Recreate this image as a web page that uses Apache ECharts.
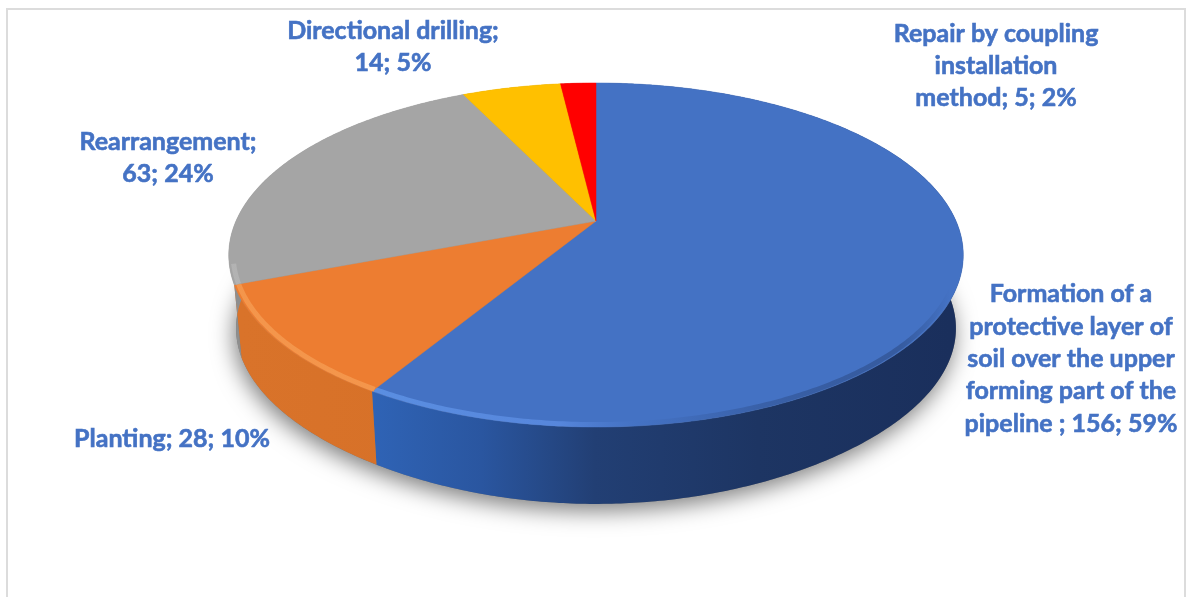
<!DOCTYPE html>
<html>
<head>
<meta charset="utf-8">
<style>html,body{margin:0;padding:0;background:#fff}#c{width:1191px;height:597px}</style>
<script src="https://cdn.jsdelivr.net/npm/echarts@6/dist/echarts.min.js"></script>
</head>
<body>
<div id="c"></div>
<script>
// ---- data ----
var categories = [
  'Formation of a protective layer of soil over the upper forming part of the pipeline ',
  'Planting',
  'Rearrangement',
  'Directional drilling',
  'Repair by coupling installation method'
];
var values = [156, 28, 63, 14, 5];
var percents = [59, 10, 24, 5, 2];

// ---- label wrapping and placement ----
var nameLines = [
  ['Formation of a', 'protective layer of', 'soil over the upper', 'forming part of the', 'pipeline '],
  ['Planting'],
  ['Rearrangement'],
  ['Directional drilling'],
  ['Repair by coupling', 'installation', 'method']
];
var valueOnNewLine = [false, false, true, true, false];
var labelCenters = [[1071, 359], [172, 439], [168, 158], [393, 47], [996, 66]];

// ---- styles ----
var topColors = ['#4472C4', '#ED7D31', '#A5A5A5', '#FFC000', '#FF0000'];
var sideStops = [
  [[0.19, '#2F63B5'], [0.34, '#2A56A0'], [0.5, '#223F74'], [0.73, '#1D3563'], [1, '#1A2F5C']],
  [[0, '#D9732A'], [1, '#D06A22']],
  [[0, '#8E8E8E'], [1, '#9A9A9A']],
  [[0, '#BF9000'], [1, '#BF9000']],
  [[0, '#BF0000'], [1, '#BF0000']]
];
var bevelStops = [
  [[0.19, '#5E93E6'], [0.45, '#5A8AE0'], [0.56, 'rgba(68,114,196,0.6)'], [0.73, 'rgba(50,85,150,0.7)'], [0.93, 'rgba(35,60,110,0.5)'], [1, 'rgba(35,60,110,0)']],
  [[0, '#F59A50'], [1, '#F59A50']],
  [[0, '#B5B5B5'], [1, '#B5B5B5']],
  [[0, '#FFC000'], [1, '#FFC000']],
  [[0, '#FF0000'], [1, '#FF0000']]
];

// ---- perspective disc ----
var cx = 596, cy = 221;
var halfW = 360, halfH = 165.3, persp = 0.1977, depth = 74, bottomScale = 0.98, frontBulge = 7;
var total = values.reduce(function (a, b) { return a + b; }, 0);

function project(angle, yOff, scale, bulge) {
  var X = Math.sin(angle), Y = -Math.cos(angle);
  var w = 1 - persp * Y;
  var extra = Y > 0 ? bulge * Math.pow(Y, 6) : 0;
  return [cx + halfW * scale * X / w, cy + yOff + extra + halfH * scale * Y / w];
}
function range(i) {
  var before = 0;
  for (var k = 0; k < i; k++) before += values[k];
  return [before / total * Math.PI * 2, (before + values[i]) / total * Math.PI * 2];
}
function arc(a0, a1, yOff, scale, bulge) {
  var n = Math.max(6, Math.ceil(Math.abs(a1 - a0) / 0.01)), pts = [];
  for (var i = 0; i <= n; i++) pts.push(project(a0 + (a1 - a0) * i / n, yOff, scale, bulge || 0));
  return pts;
}
function grad(stops) {
  return {
    type: 'linear', global: true, x: 240, y: 0, x2: 950, y2: 0,
    colorStops: stops.map(function (s) { return { offset: s[0], color: s[1] }; })
  };
}
function frontOnly(a0, a1) { // clamps an arc to the part of the rim facing the viewer
  var lo = Math.max(a0, Math.PI * 0.5), hi = Math.min(a1, Math.PI * 1.42);
  return hi > lo ? [lo, hi] : null;
}

var chart = echarts.init(document.getElementById('c'), null, { renderer: 'canvas' });
var seriesData = values.map(function (v, i) { return [v, i]; });

chart.setOption({
  animation: false,
  backgroundColor: '#ffffff',
  graphic: [{
    type: 'rect', silent: true, z: 0,
    shape: { x: 7, y: 9, width: 1178, height: 620 },
    style: { fill: 'none', stroke: '#DCDCDC', lineWidth: 2 }
  }],
  series: [
    { // drop shadow under the disc
      type: 'custom', coordinateSystem: 'none', z: 1, silent: true,
      data: [[1]],
      renderItem: function () {
        return {
          type: 'polygon',
          shape: { points: arc(0, Math.PI * 2, depth, bottomScale, frontBulge) },
          style: { fill: '#777', shadowColor: 'rgba(0,0,0,0.5)', shadowBlur: 22, shadowOffsetY: 7, shadowOffsetX: -2 }
        };
      }
    },
    { // rim
      type: 'custom', coordinateSystem: 'none', z: 2, silent: true,
      data: seriesData,
      renderItem: function (params) {
        var r = range(params.dataIndex);
        var top = arc(r[0], r[1], 0, 1);
        var bot = arc(r[0], r[1], depth, bottomScale, frontBulge).reverse();
        return {
          type: 'polygon',
          shape: { points: top.concat(bot) },
          style: { fill: grad(sideStops[params.dataIndex]) }
        };
      }
    },
    { // top face
      type: 'custom', coordinateSystem: 'none', z: 3, silent: true,
      data: seriesData,
      renderItem: function (params) {
        var i = params.dataIndex, r = range(i);
        var pts = [[cx, cy]].concat(arc(r[0], r[1], 0, 1));
        var children = [{
          type: 'polygon',
          shape: { points: pts },
          style: { fill: topColors[i], stroke: topColors[i], lineWidth: 0.5 }
        }];
        var f = frontOnly(r[0], r[1]);
        if (f) {
          children.push({
            type: 'polyline',
            shape: { points: arc(f[0], f[1], 0, 0.988) },
            style: { fill: 'none', stroke: grad(bevelStops[i]), lineWidth: 5, opacity: 0.85 }
          });
        }
        return { type: 'group', children: children };
      }
    },
    { // data labels
      type: 'custom', coordinateSystem: 'none', z: 4, silent: true,
      data: seriesData,
      renderItem: function (params, api) {
        var i = params.dataIndex;
        var lines = nameLines[i].slice();
        var tail = api.value(0) + '; ' + percents[i] + '%';
        if (valueOnNewLine[i]) {
          lines[lines.length - 1] += ';';
          lines.push(tail);
        } else {
          lines[lines.length - 1] += '; ' + tail;
        }
        return {
          type: 'text',
          x: labelCenters[i][0], y: labelCenters[i][1],
          style: {
            text: lines.join('\n'),
            x: 0, y: 0,
            align: 'center', verticalAlign: 'middle',
            fill: '#4472C4', lineHeight: 32.4,
            stroke: '#4472C4', lineWidth: 0.6,
            font: 'bold 25px Lato, Carlito, "Open Sans", sans-serif'
          }
        };
      }
    }
  ]
});
</script>
</body>
</html>
